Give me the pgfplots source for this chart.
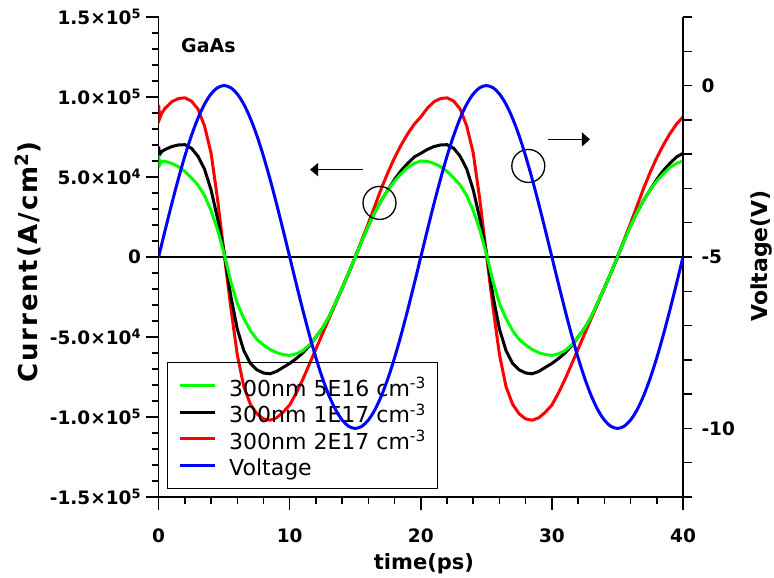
\documentclass[border=0pt]{standalone}
\usepackage{pgfplots}
\pgfplotsset{compat=1.18}
\usepackage{pgfplotstable}
\usepackage{fontspec}
\setmainfont{DejaVu Sans}
\usetikzlibrary{arrows.meta}

\pgfplotstableread{
t I
0 0.635
0.08 0.575
0.25 0.598
0.5 0.598
1 0.585
1.5 0.565
2 0.535
2.5 0.495
3 0.45
3.5 0.385
4 0.29
4.5 0.17
5 0.02
5.5 -0.15
6 -0.29
6.5 -0.385
7 -0.46
7.5 -0.515
8 -0.55
8.5 -0.578
9 -0.598
9.5 -0.61
10 -0.615
10.5 -0.605
11 -0.585
11.5 -0.55
12 -0.50
12.5 -0.445
13 -0.375
13.5 -0.285
14 -0.195
14.5 -0.10
15 0.0
15.5 0.10
16 0.195
16.5 0.28
17 0.355
17.5 0.42
18 0.475
18.5 0.52
19 0.56
19.5 0.585
20 0.600
20.5 0.598
21 0.585
21.5 0.565
22 0.535
22.5 0.495
23 0.45
23.5 0.385
24 0.29
24.5 0.17
25 0.02
25.5 -0.15
26 -0.29
26.5 -0.385
27 -0.46
27.5 -0.515
28 -0.55
28.5 -0.578
29 -0.598
29.5 -0.61
30 -0.615
30.5 -0.605
31 -0.585
31.5 -0.55
32 -0.50
32.5 -0.445
33 -0.375
33.5 -0.285
34 -0.195
34.5 -0.10
35 0.0
35.5 0.10
36 0.195
36.5 0.28
37 0.355
37.5 0.42
38 0.475
38.5 0.52
39 0.56
39.5 0.585
40 0.600
}\greendata

\pgfplotstableread{
t I
0 0.69
0.08 0.64
0.25 0.66
0.5 0.672
1 0.69
1.5 0.70
2 0.702
2.5 0.68
3 0.63
3.5 0.55
4 0.42
4.5 0.24
5 0.03
5.5 -0.24
6 -0.45
6.5 -0.585
7 -0.665
7.5 -0.705
8 -0.725
8.5 -0.73
9 -0.715
9.5 -0.69
10 -0.665
10.5 -0.635
11 -0.60
11.5 -0.555
12 -0.50
12.5 -0.445
13 -0.375
13.5 -0.285
14 -0.195
14.5 -0.10
15 0.0
15.5 0.10
16 0.195
16.5 0.28
17 0.355
17.5 0.42
18 0.485
18.5 0.54
19 0.585
19.5 0.625
20 0.648
20.5 0.672
21 0.69
21.5 0.70
22 0.702
22.5 0.68
23 0.63
23.5 0.55
24 0.42
24.5 0.24
25 0.03
25.5 -0.24
26 -0.45
26.5 -0.585
27 -0.665
27.5 -0.705
28 -0.725
28.5 -0.73
29 -0.715
29.5 -0.69
30 -0.665
30.5 -0.635
31 -0.60
31.5 -0.555
32 -0.50
32.5 -0.445
33 -0.375
33.5 -0.285
34 -0.195
34.5 -0.10
35 0.0
35.5 0.10
36 0.195
36.5 0.28
37 0.355
37.5 0.42
38 0.485
38.5 0.54
39 0.585
39.5 0.625
40 0.648
}\blackdata

\pgfplotstableread{
t I
0 0.95
0.08 0.865
0.25 0.90
0.5 0.93
1 0.97
1.5 0.99
2 0.995
2.5 0.975
3 0.925
3.5 0.82
4 0.65
4.5 0.36
5 0.02
5.5 -0.31
6 -0.61
6.5 -0.81
7 -0.92
7.5 -0.98
8 -1.012
8.5 -1.02
9 -1.005
9.5 -0.97
10 -0.925
10.5 -0.85
11 -0.765
11.5 -0.67
12 -0.575
12.5 -0.48
13 -0.385
13.5 -0.29
14 -0.195
14.5 -0.10
15 0.0
15.5 0.105
16 0.21
16.5 0.32
17 0.43
17.5 0.53
18 0.62
18.5 0.70
19 0.77
19.5 0.83
20 0.875
20.5 0.93
21 0.97
21.5 0.99
22 0.995
22.5 0.975
23 0.925
23.5 0.82
24 0.65
24.5 0.36
25 0.02
25.5 -0.31
26 -0.61
26.5 -0.81
27 -0.92
27.5 -0.98
28 -1.012
28.5 -1.02
29 -1.005
29.5 -0.97
30 -0.925
30.5 -0.85
31 -0.765
31.5 -0.67
32 -0.575
32.5 -0.48
33 -0.385
33.5 -0.29
34 -0.195
34.5 -0.10
35 0.0
35.5 0.105
36 0.21
36.5 0.32
37 0.43
37.5 0.53
38 0.62
38.5 0.70
39 0.77
39.5 0.83
40 0.875
}\reddata

\pgfplotstableread{
t V
0 -5
0.5 -4.2178
1 -3.4549
1.5 -2.7300
2 -2.0611
2.5 -1.4645
3 -0.9549
3.5 -0.5450
4 -0.2447
4.5 -0.0616
5 0
5.5 -0.0616
6 -0.2447
6.5 -0.5450
7 -0.9549
7.5 -1.4645
8 -2.0611
8.5 -2.7300
9 -3.4549
9.5 -4.2178
10 -5
10.5 -5.7822
11 -6.5451
11.5 -7.2700
12 -7.9389
12.5 -8.5355
13 -9.0451
13.5 -9.4550
14 -9.7553
14.5 -9.9384
15 -10
15.5 -9.9384
16 -9.7553
16.5 -9.4550
17 -9.0451
17.5 -8.5355
18 -7.9389
18.5 -7.2700
19 -6.5451
19.5 -5.7822
20 -5
20.5 -4.2178
21 -3.4549
21.5 -2.7300
22 -2.0611
22.5 -1.4645
23 -0.9549
23.5 -0.5450
24 -0.2447
24.5 -0.0616
25 0
25.5 -0.0616
26 -0.2447
26.5 -0.5450
27 -0.9549
27.5 -1.4645
28 -2.0611
28.5 -2.7300
29 -3.4549
29.5 -4.2178
30 -5
30.5 -5.7822
31 -6.5451
31.5 -7.2700
32 -7.9389
32.5 -8.5355
33 -9.0451
33.5 -9.4550
34 -9.7553
34.5 -9.9384
35 -10
35.5 -9.9384
36 -9.7553
36.5 -9.4550
37 -9.0451
37.5 -8.5355
38 -7.9389
38.5 -7.2700
39 -6.5451
39.5 -5.7822
40 -5
}\voltdata

\begin{document}
\begin{tikzpicture}
\useasboundingbox (-158.6pt,-81pt) rectangle (615.4pt,497pt);
\begin{axis}[
  scale only axis, width=524.4pt, height=480pt,
  xmin=0, xmax=40, ymin=-1.5, ymax=1.5,
  axis x line*=bottom, axis y line*=left,
  axis line style={-, line width=1.5pt, black},
  tick align=outside,
  major tick length=13pt, minor tick length=7pt,
  tick style={black, line width=1.5pt},
  xtick={0,10,20,30,40}, xticklabels={0,10,20,30,40},
  minor x tick num=4,
  ytick={-1.5,-1,-0.5,0,0.5,1,1.5},
  yticklabels={-1.5×10\textsuperscript{5},-1.0×10\textsuperscript{5},-5.0×10\textsuperscript{4},0,5.0×10\textsuperscript{4},1.0×10\textsuperscript{5},1.5×10\textsuperscript{5}},
  minor y tick num=4,
  ticklabel style={font=\fontsize{18.5}{18.5}\selectfont\bfseries},
  xticklabel style={yshift=-15pt},
  yticklabel style={xshift=-1pt},
  legend style={
    at={(0.0153,0.0167)}, anchor=south west,
    draw=black, fill=none, line width=1.2pt,
    font=\fontsize{22}{26}\selectfont,
    inner xsep=11pt, inner ysep=10pt,
    row sep=0pt, column sep=12pt,
    nodes={inner sep=1pt, text height=23pt, text depth=1.5pt},
    cells={anchor=west},
  },
  legend cell align=left,
  legend image code/.code={\draw[#1] (5pt,0pt) -- (40pt,0pt);},
]
\draw[line width=1.2pt, black] (axis cs:0,0) -- (axis cs:40,0);
\addplot[red, line width=3pt, forget plot] table[x=t, y=I] {\reddata};
\addplot[black, line width=3pt, forget plot] table[x=t, y=I] {\blackdata};
\addplot[green, line width=3pt, forget plot] table[x=t, y=I] {\greendata};
\addlegendimage{green, line width=3pt}
\addlegendentry{300nm 5E16 cm\textsuperscript{-3}}
\addlegendimage{black, line width=3pt}
\addlegendentry{300nm 1E17 cm\textsuperscript{-3}}
\addlegendimage{red, line width=3pt}
\addlegendentry{300nm 2E17 cm\textsuperscript{-3}}
\addlegendimage{blue, line width=3pt}
\addlegendentry{Voltage}
\draw[line width=1.3pt] (axis cs:16.85,0.338) circle[radius=16.5pt];
\draw[line width=1.3pt] (axis cs:28.2,0.569) circle[radius=16.5pt];
\draw[line width=1.5pt, -{Triangle[length=8pt,width=13pt]}] (axis cs:15.59,0.546) -- (axis cs:11.55,0.546);
\draw[line width=1.5pt, -{Triangle[length=8pt,width=14pt]}] (axis cs:29.73,0.735) -- (axis cs:32.9,0.735);
\node[font=\fontsize{19}{19}\selectfont\bfseries] at (axis cs:3.8,1.323) {GaAs};
\end{axis}
\begin{axis}[
  scale only axis, width=524.4pt, height=480pt,
  xmin=0, xmax=40, ymin=-12, ymax=2,
  axis x line=none, axis y line*=right,
  axis line style={-, line width=1.5pt, black},
  tick align=outside,
  major tick length=9pt, minor tick length=9pt,
  tick style={black, line width=1.5pt},
  ytick={-10,-5,0}, yticklabels={-10,-5,0},
  minor ytick={-12,-11,...,2},
  ticklabel style={font=\fontsize{18.5}{18.5}\selectfont\bfseries},
  yticklabel style={xshift=6pt},
]
\addplot[blue, line width=3pt, smooth] table[x=t, y=V] {\voltdata};
\end{axis}
\node[rotate=90, font=\fontsize{26}{26}\selectfont\bfseries\addfontfeatures{LetterSpace=7}] at (-130.6pt,235pt) {Current(A/cm\textsuperscript{2})};
\node[rotate=90, font=\fontsize{22}{22}\selectfont\bfseries] at (603.4pt,241pt) {Voltage(V)};
\node[font=\fontsize{21}{21}\selectfont\bfseries] at (265.4pt,-67pt) {time(ps)};
\end{tikzpicture}
\end{document}
